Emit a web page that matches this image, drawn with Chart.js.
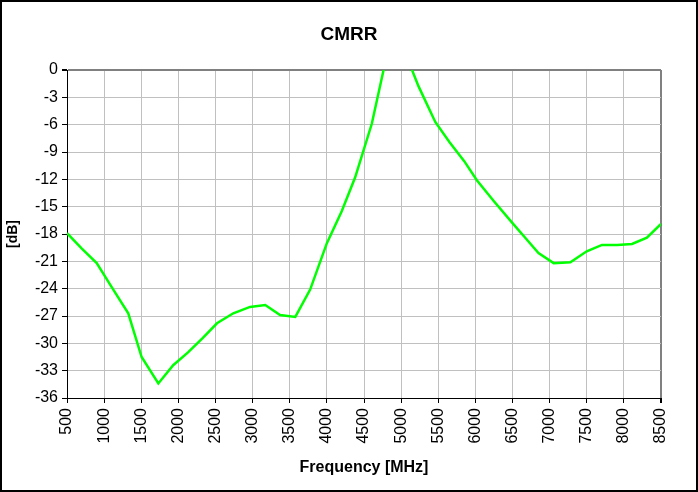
<!DOCTYPE html>
<html>
<head>
<meta charset="utf-8">
<title>CMRR</title>
<script src="https://cdn.jsdelivr.net/npm/chart.js@4.4.1/dist/chart.umd.min.js"></script>
<style>
  html, body { margin: 0; padding: 0; background: #fff; }
  #wrap { position: relative; width: 698px; height: 492px; }
</style>
</head>
<body>
<div id="wrap"><canvas id="cmrrChart" width="698" height="492"></canvas></div>
<script>
// ─── Data ─────────────────────────────────────────────────────────────────────

const freqMHz = [500, 700, 900, 1100, 1325, 1505, 1730, 1930, 2130, 2330,
                 2520, 2740, 2965, 3170, 3370, 3575, 3775, 4000, 4200, 4380,
                 4605, 4820, 5010, 5235, 5460, 5650, 5850, 6020, 6250, 6500,
                 6680, 6850, 7055, 7280, 7500, 7705, 7910, 8110, 8310, 8500];
const cmrrDb  = [-17.9, -19.6, -21.2, -23.8, -26.7, -31.5, -34.4, -32.4, -31.0, -29.4,
                 -27.8, -26.7, -26.0, -25.8, -26.9, -27.1, -24.1, -19.0, -15.5, -11.8,
                 -5.9, 2.1, 2.8, -1.8, -5.7, -7.9, -10.0, -12.1, -14.4, -16.8,
                 -18.5, -20.1, -21.2, -21.1, -19.9, -19.2, -19.2, -19.1, -18.4, -16.9];
const xTicks  = [500, 1000, 1500, 2000, 2500, 3000, 3500, 4000, 4500,
                 5000, 5500, 6000, 6500, 7000, 7500, 8000, 8500];
const yTicks  = [0, -3, -6, -9, -12, -15, -18, -21, -24, -27, -30, -33, -36];

const FONT = "'Liberation Sans', Arial, sans-serif";
Chart.defaults.font.family = FONT;
Chart.defaults.color = '#000';

// outer frame around the whole chart
const framePlugin = {
  id: 'frame',
  afterDraw(chart) {
    const { ctx, width, height } = chart;
    ctx.save();
    ctx.strokeStyle = '#000';
    ctx.lineWidth = 2;
    ctx.strokeRect(1, 1, width - 2, height - 2);
    ctx.restore();
  },
};

new Chart(document.getElementById('cmrrChart'), {
  type: 'line',
  data: {
    datasets: [{
      label: 'CMRR',
      data: freqMHz.map((f, i) => ({ x: f, y: cmrrDb[i] })),
      borderColor: '#00ff00',
      borderWidth: 2.5,
      pointRadius: 0,
      tension: 0,
      fill: false,
    }],
  },
  options: {
    responsive: false,
    animation: false,
    layout: { padding: 0 },
    plugins: {
      legend: { display: false },
      tooltip: { enabled: false },
      title: {
        display: true,
        text: 'CMRR',
        font: { family: FONT, size: 19, weight: 'bold' },
        color: '#000',
        padding: { top: 23, bottom: 24.2 },
      },
    },
    scales: {
      x: {
        type: 'linear',
        min: 500,
        max: 8500,
        afterBuildTicks: (s) => { s.ticks = xTicks.map(v => ({ value: v })); },
        afterFit: (s) => { s.height = 94; },
        ticks: {
          minRotation: 90,
          maxRotation: 90,
          padding: 5,
          font: { family: FONT, size: 16 },
          color: '#000',
          callback: (v) => String(v),
        },
        grid: {
          color: (c) => (c.tick && c.tick.value === 8500 ? '#808080' : '#c0c0c0'),
          lineWidth: (c) => (c.tick && c.tick.value === 8500 ? 2 : 1),
          tickColor: '#000',
          tickLength: 5,
        },
        border: { color: '#000', width: 1 },
        title: {
          display: true,
          text: 'Frequency [MHz]',
          font: { family: FONT, size: 16, weight: 'bold' },
          color: '#000',
          padding: { top: 0, bottom: 15 },
        },
      },
      y: {
        min: -36,
        max: 0,
        afterBuildTicks: (s) => { s.ticks = yTicks.map(v => ({ value: v })); },
        afterFit: (s) => { s.width = 67; },
        ticks: {
          padding: 4,
          font: { family: FONT, size: 16 },
          color: '#000',
        },
        grid: {
          color: (c) => (c.tick && c.tick.value === 0 ? '#808080' : '#c0c0c0'),
          lineWidth: (c) => (c.tick && c.tick.value === 0 ? 2 : 1),
          tickColor: '#000',
          tickLength: 5,
        },
        border: { color: '#000', width: 1 },
        title: {
          display: true,
          text: '[dB]',
          font: { family: FONT, size: 14, weight: 'bold' },
          color: '#000',
          padding: { top: 5, bottom: 0 },
        },
      },
      // empty right-hand gutter so the title stays centred on the frame
      gutter: {
        axis: 'y',
        position: 'right',
        display: true,
        min: 0,
        max: 1,
        afterFit: (s) => { s.width = 37; },
        ticks: { display: false },
        grid: { display: false, drawTicks: false },
        border: { display: false },
      },
    },
  },
  plugins: [framePlugin],
});
</script>
</body>
</html>
